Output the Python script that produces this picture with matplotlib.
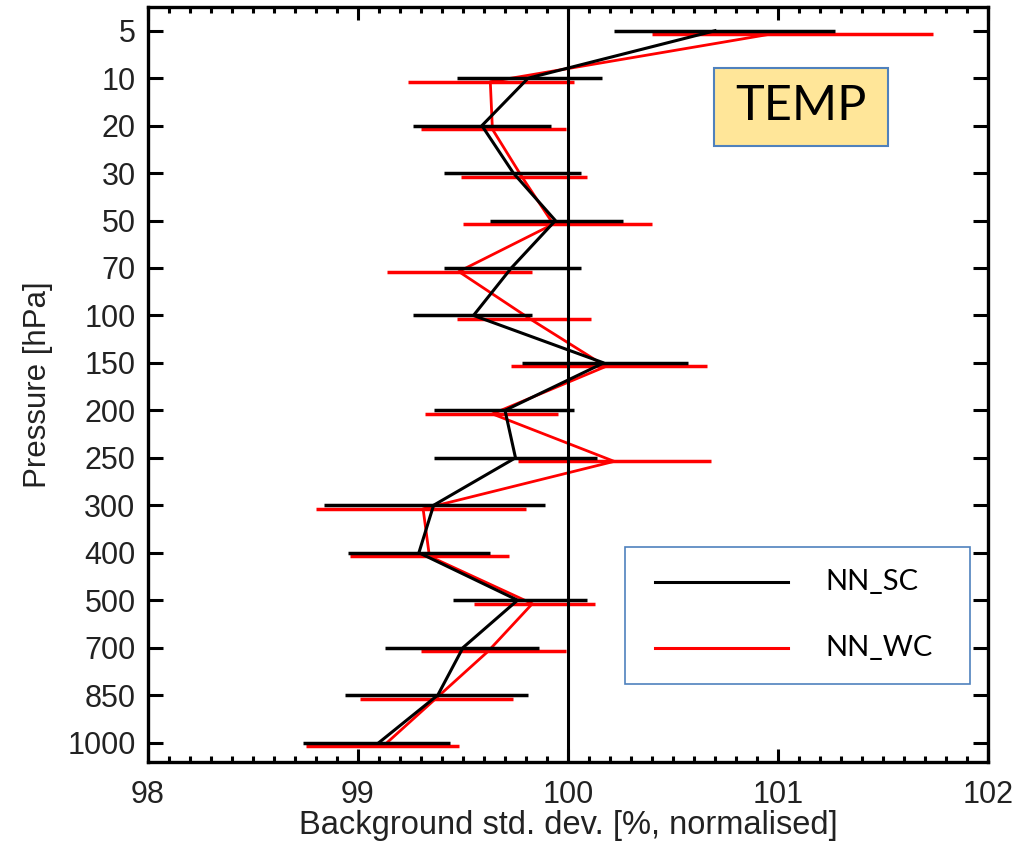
import numpy as np
import matplotlib
matplotlib.use("Agg")
import matplotlib.pyplot as plt
from matplotlib.ticker import MultipleLocator
from matplotlib.patches import Rectangle
from matplotlib.lines import Line2D

# ---- data -------------------------------------------------------------
levels = ['5', '10', '20', '30', '50', '70', '100', '150', '200', '250',
          '300', '400', '500', '700', '850', '1000']

sc_mean = [100.70, 99.81, 99.59, 99.74, 99.94, 99.73, 99.55, 100.17, 99.70, 99.75,
           99.36, 99.29, 99.76, 99.50, 99.38, 99.10]
sc_lo = [100.22, 99.47, 99.26, 99.41, 99.63, 99.41, 99.26, 99.78, 99.36, 99.36,
         98.84, 98.95, 99.45, 99.13, 98.94, 98.74]
sc_hi = [101.27, 100.16, 99.92, 100.06, 100.26, 100.06, 99.83, 100.57, 100.03, 100.14,
         99.89, 99.63, 100.09, 99.86, 99.81, 99.44]

wc_mean = [100.96, 99.63, 99.64, 99.78, 99.93, 99.48, 99.82, 100.18, 99.64, 100.22,
           99.31, 99.34, 99.83, 99.62, 99.37, 99.12]
wc_lo = [100.40, 99.24, 99.30, 99.49, 99.50, 99.14, 99.47, 99.73, 99.32, 99.76,
         98.80, 98.96, 99.55, 99.30, 99.01, 98.75]
wc_hi = [101.74, 100.03, 99.99, 100.09, 100.40, 99.83, 100.11, 100.66, 99.95, 100.68,
         99.80, 99.72, 100.13, 99.99, 99.74, 99.48]

series_names = ['NN_SC', 'NN_WC']
series_colors = ['black', '#ff0000']
xticks = [98, 99, 100, 101, 102]
ref_value = 100

# ---- figure -----------------------------------------------------------
W, H = 1019, 847
fig = plt.figure(figsize=(W / 100, H / 100), dpi=100)
L, R, T, B = 148, 988, 7, 762
ax = fig.add_axes([L / W, 1 - B / H, (R - L) / W, (B - T) / H])

tick_font = ['Liberation Sans', 'DejaVu Sans']

y = np.arange(len(levels))
off = 0.075

ax.hlines(y + off, wc_lo, wc_hi, color=series_colors[1], lw=2.5, zorder=2)
ax.plot(wc_mean, y + off, color=series_colors[1], lw=2.0, zorder=3)
ax.hlines(y, sc_lo, sc_hi, color=series_colors[0], lw=2.5, zorder=4)
ax.plot(sc_mean, y, color=series_colors[0], lw=2.2, zorder=5)
ax.axvline(ref_value, color='black', lw=2.2, zorder=6)

ax.set_xlim(98, 102)
ax.set_ylim(15.41, -0.5)
ax.set_yticks(y)
ax.set_yticklabels(levels, fontfamily=tick_font, fontsize=22, color='#222222')
ax.set_xticks(xticks)
ax.set_xticklabels([str(v) for v in xticks], fontfamily=tick_font, fontsize=22, color='#222222')
ax.xaxis.set_minor_locator(MultipleLocator(0.1))

ax.tick_params(which='both', direction='in', top=True, right=True, width=2.2, color='black')
ax.tick_params(axis='y', which='major', length=11, pad=9)
ax.tick_params(axis='x', which='major', length=9.5, pad=13)
ax.tick_params(axis='x', which='minor', length=4)
for s in ax.spines.values():
    s.set_linewidth(2.4)

ax.set_xlabel('Background std. dev. [%, normalised]', fontfamily=tick_font,
              fontsize=23.5, color='#222222', labelpad=0)
ax.set_ylabel('Pressure [hPa]', fontfamily=tick_font,
              fontsize=22.5, color='#222222', labelpad=10)

# ---- TEMP box (figure pixel coords) ----------------------------------
def fx(px):
    return px / W

def fy(py):
    return 1 - py / H

fig.add_artist(Rectangle((fx(714), fy(146)), fx(888) - fx(714), fy(68) - fy(146),
                         transform=fig.transFigure, facecolor='#FFE699',
                         edgecolor='#4F81BD', lw=1.5, zorder=10))
fig.text(fx(801), fy(106), 'TEMP', ha='center', va='center', fontsize=35,
         family=['Lato', 'DejaVu Sans'], color='black', zorder=11)

# ---- legend box -------------------------------------------------------
fig.add_artist(Rectangle((fx(625), fy(684)), fx(970) - fx(625), fy(547) - fy(684),
                         transform=fig.transFigure, facecolor='white',
                         edgecolor='#4F81BD', lw=1.2, zorder=10))
for name, col, py in zip(series_names, series_colors, [582, 648]):
    fig.add_artist(Line2D([fx(655), fx(788)], [fy(py), fy(py)], transform=fig.transFigure,
                          color=col, lw=2.2, zorder=11))
    fig.text(fx(825), fy(py), name, ha='left', va='center', fontsize=21,
             family=['Lato', 'DejaVu Sans'], color='black', zorder=11)

fig.savefig('out.png', dpi=100)
